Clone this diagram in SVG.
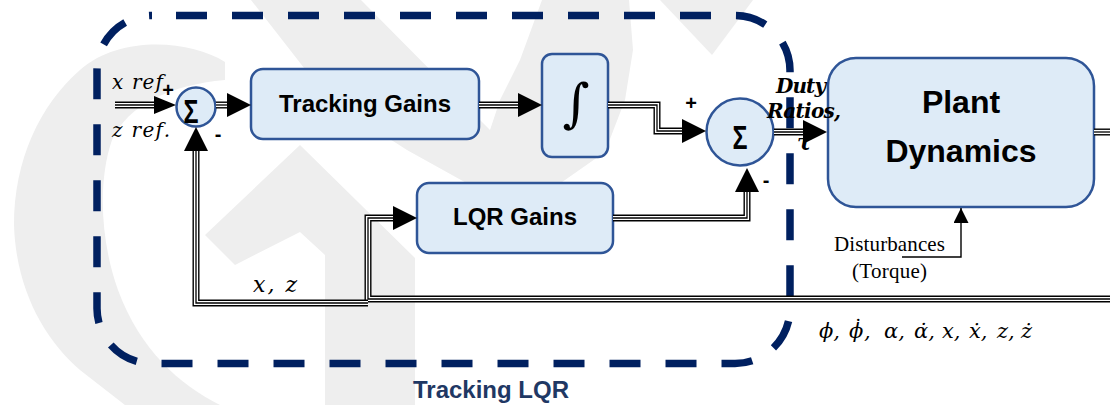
<svg xmlns="http://www.w3.org/2000/svg" xmlns:xlink="http://www.w3.org/1999/xlink" width="1110" height="405" viewBox="0 0 1110 405">
<style>
.wm{fill:#eeeeee;stroke:none}
.blk{fill:#DEEBF7;stroke:#2F5597;stroke-width:2.5}
.lbl{font-family:"Liberation Sans",Arial,sans-serif;font-weight:bold;fill:#000;text-anchor:middle}
.math{font-family:"DejaVu Serif","Liberation Serif",serif;font-style:italic;fill:#000}
.tnr{font-family:"Liberation Serif","Times New Roman",serif;fill:#000}
.sign{font-family:"Liberation Sans",Arial,sans-serif;font-weight:bold;font-size:20px;text-anchor:middle;fill:#000}
.l1{fill:none;stroke:#000;stroke-width:7}
.l2{fill:none;stroke:#fff;stroke-width:4.2}
.l3{fill:none;stroke:#000;stroke-width:1.3}
.thin{fill:none;stroke:#000;stroke-width:1.4}
</style>
<defs>
<marker id="arr" viewBox="0 0 24 24" refX="12" refY="12" markerWidth="24" markerHeight="24" markerUnits="userSpaceOnUse" orient="auto"><path d="M0,0 L24,12 L0,24 Z" fill="#000"/></marker>
<marker id="arrS" viewBox="0 0 22 18" refX="11" refY="9" markerWidth="22" markerHeight="18" markerUnits="userSpaceOnUse" orient="auto"><path d="M0,0 L22,9 L0,18 Z" fill="#000"/></marker>
<marker id="arrT" viewBox="0 0 15 15" refX="15" refY="7.5" markerWidth="15" markerHeight="15" markerUnits="userSpaceOnUse" orient="auto"><path d="M0,0 L15,7.5 L0,15 Z" fill="#000"/></marker>
<path id="c1" d="M115,105 H165"/>
<path id="c2" d="M216,105 H239"/>
<path id="c3" d="M479,105 H530"/>
<path id="c4" d="M608,105 H657 V131 H694"/>
<path id="c5" d="M774,132 H815"/>
<path id="c6" d="M613,218 H747 V180"/>
<path id="c7" d="M1110,299 H368 V218 H405"/>
<path id="c8" d="M368,303 H196 V139"/>
<path id="c9" d="M1094,132 H1110"/>
</defs>

<g id="watermark">
<path class="wm" d="M225,62 C190,40 120,35 80,70 C40,105 14,160 14,225 C16,290 45,340 80,370 L125,405 L220,405 C180,385 140,350 118,290 C100,240 98,180 112,140 C128,105 170,85 225,80 Z"/>
<path class="wm" d="M251,0 L329,100 L407,150 L470,185 L555,187 L605,152 L625,100 L633,50 L629,0 L542,0 L520,60 L500,100 L490,130 L460,100 L361,0 Z"/>
<path class="wm" d="M205,235 L300,145 L415,258 L415,405 L325,405 L325,255 L300,232 L235,265 Z"/>
<path class="wm" d="M660,0 L753,0 L712,55 Z"/>
</g>

<g id="tracking-lqr-boundary">
<rect x="97" y="15.5" width="693" height="348" rx="55" ry="55" fill="none" stroke="#002060" stroke-width="7.5" stroke-dasharray="31 25" stroke-dashoffset="32"/>
<text x="491" y="398" font-family="'Liberation Sans',Arial,sans-serif" font-weight="bold" font-size="24" fill="#1F3864" text-anchor="middle">Tracking LQR</text>
</g>

<g id="sum1">
<circle class="blk" cx="196" cy="107" r="19.5"/>
<text class="lbl" font-size="25" font-weight="normal" transform="translate(191,123) scale(1,1.34)">Σ</text>
</g>

<g id="tracking-gains">
<rect class="blk" x="251" y="69" width="228" height="70" rx="12"/>
<text class="lbl" x="365" y="112" font-size="24">Tracking Gains</text>
</g>

<g id="integrator">
<rect class="blk" x="542" y="54" width="66" height="103" rx="10"/>
<text x="576" y="121" font-family="'DejaVu Serif',serif" font-size="52" text-anchor="middle" fill="#000">∫</text>
</g>

<g id="sum2">
<circle class="blk" cx="740" cy="132" r="33.5"/>
<text class="lbl" font-size="25" font-weight="normal" transform="translate(740,149) scale(1,1.34)">Σ</text>
</g>

<g id="lqr-gains">
<rect class="blk" x="417" y="183" width="196" height="70" rx="12"/>
<text class="lbl" x="515" y="225" font-size="24">LQR Gains</text>
</g>

<g id="plant-dynamics">
<rect class="blk" x="828" y="58" width="266" height="149" rx="28"/>
<text class="lbl" x="961" y="113" font-size="32">Plant</text>
<text class="lbl" x="961" y="162" font-size="32">Dynamics</text>
</g>

<g id="connectors">
<use href="#c1" class="l1"/><use href="#c1" class="l2"/><use href="#c1" class="l3" marker-end="url(#arrS)"/>
<use href="#c2" class="l1"/><use href="#c2" class="l2"/><use href="#c2" class="l3" marker-end="url(#arr)"/>
<use href="#c3" class="l1"/><use href="#c3" class="l2"/><use href="#c3" class="l3" marker-end="url(#arr)"/>
<use href="#c4" class="l1"/><use href="#c4" class="l2"/><use href="#c4" class="l3" marker-end="url(#arr)"/>
<use href="#c5" class="l1"/><use href="#c5" class="l2"/><use href="#c5" class="l3" marker-end="url(#arr)"/>
<use href="#c6" class="l1"/><use href="#c6" class="l2"/><use href="#c6" class="l3" marker-end="url(#arr)"/>
<use href="#c7" class="l1"/><use href="#c7" class="l2"/><use href="#c7" class="l3" marker-end="url(#arr)"/>
<use href="#c8" class="l1"/><use href="#c8" class="l2"/><use href="#c8" class="l3" marker-end="url(#arr)"/>
<use href="#c9" class="l1"/><use href="#c9" class="l2"/><use href="#c9" class="l3"/>
<path class="thin" d="M902,257 H961 V208" marker-end="url(#arrT)"/>
</g>

<g id="labels">
<text class="math" x="112" y="89" font-size="20" textLength="51">x ref</text>
<text class="math" x="112" y="137" font-size="20" textLength="58">z ref.</text>
<text class="sign" x="168" y="97">+</text>
<text class="sign" x="218" y="141">-</text>
<text class="sign" x="691" y="110">+</text>
<text class="sign" x="766" y="187">-</text>
<text class="math" x="776" y="93" font-size="20" font-weight="bold" textLength="50">Duty</text>
<text class="math" x="767" y="118" font-size="20" font-weight="bold" textLength="74">Ratios,</text>
<text class="math" x="797" y="150" font-size="22" font-weight="bold">τ</text>
<text class="math" x="253" y="292" font-size="22" textLength="44">x, z</text>
<text class="math" y="338" font-size="21"><tspan x="819">ϕ,</tspan><tspan x="849">ϕ</tspan><tspan x="853" dy="-4" font-style="normal">˙</tspan><tspan x="864" dy="4">,</tspan><tspan x="884">α,</tspan><tspan x="914">α̇,</tspan><tspan x="942">x,</tspan><tspan x="969">ẋ,</tspan><tspan x="997">z,</tspan><tspan x="1021">ż</tspan></text>
<text class="tnr" x="834" y="251" font-size="21" textLength="111">Disturbances</text>
<text class="tnr" x="852" y="278" font-size="21" textLength="75">(Torque)</text>
</g>
</svg>
